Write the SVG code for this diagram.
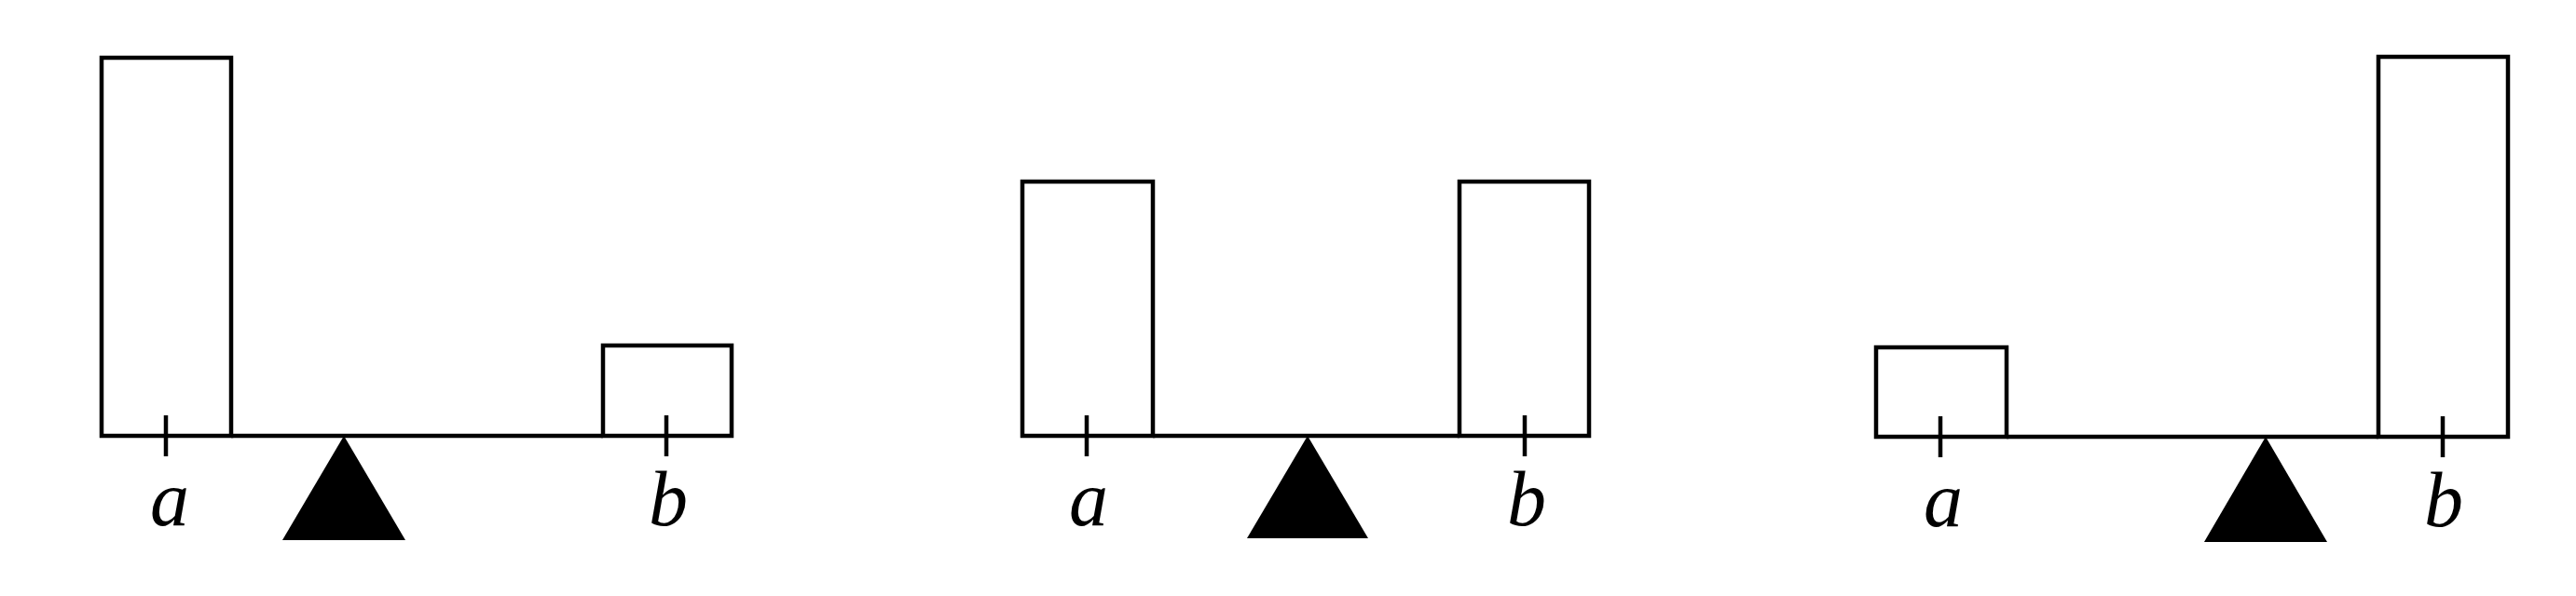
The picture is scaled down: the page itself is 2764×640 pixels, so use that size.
<svg xmlns="http://www.w3.org/2000/svg" width="2764" height="640" viewBox="0 0 2764 640">
<style>
.box{fill:none;stroke:#000;stroke-width:4.5;stroke-linejoin:miter}
.beam{stroke:#000;stroke-width:4.5;fill:none}
.tick{stroke:#000;stroke-width:4.5}
.fulcrum{fill:#000;stroke:none}
.lbl{font-family:"Liberation Serif","DejaVu Serif",serif;font-style:italic;font-size:84px;fill:#000;text-anchor:middle}
</style>
<rect width="2764" height="640" fill="#fff"/>
<g id="connectors">
<line class="beam" x1="248" y1="468" x2="647" y2="468"/>
<line class="beam" x1="1237" y1="468" x2="1566" y2="468"/>
<line class="beam" x1="2153" y1="469" x2="2552" y2="469"/>
</g>
<g id="panel1">
<g id="p1-a"><rect class="box" x="109" y="62" width="139" height="406"/><line class="tick" x1="178" y1="446" x2="178" y2="490"/><text class="lbl" x="182" y="564">a</text></g>
<g id="p1-b"><rect class="box" x="647" y="371" width="138" height="97"/><line class="tick" x1="715" y1="446" x2="715" y2="490"/><text class="lbl" x="717" y="564">b</text></g>
<g id="p1-fulcrum"><polygon class="fulcrum" points="369,468 303,580 435,580"/></g>
</g>
<g id="panel2">
<g id="p2-a"><rect class="box" x="1097" y="195" width="140" height="273"/><line class="tick" x1="1166" y1="446" x2="1166" y2="490"/><text class="lbl" x="1168" y="564">a</text></g>
<g id="p2-b"><rect class="box" x="1566" y="195" width="139" height="273"/><line class="tick" x1="1636" y1="446" x2="1636" y2="490"/><text class="lbl" x="1638" y="564">b</text></g>
<g id="p2-fulcrum"><polygon class="fulcrum" points="1403,468 1338,578 1468,578"/></g>
</g>
<g id="panel3">
<g id="p3-a"><rect class="box" x="2013" y="373" width="140" height="96"/><line class="tick" x1="2082" y1="447" x2="2082" y2="491"/><text class="lbl" x="2085" y="565">a</text></g>
<g id="p3-b"><rect class="box" x="2552" y="61" width="139" height="408"/><line class="tick" x1="2621" y1="447" x2="2621" y2="491"/><text class="lbl" x="2622" y="565">b</text></g>
<g id="p3-fulcrum"><polygon class="fulcrum" points="2431,469 2365,582 2497,582"/></g>
</g>
</svg>
